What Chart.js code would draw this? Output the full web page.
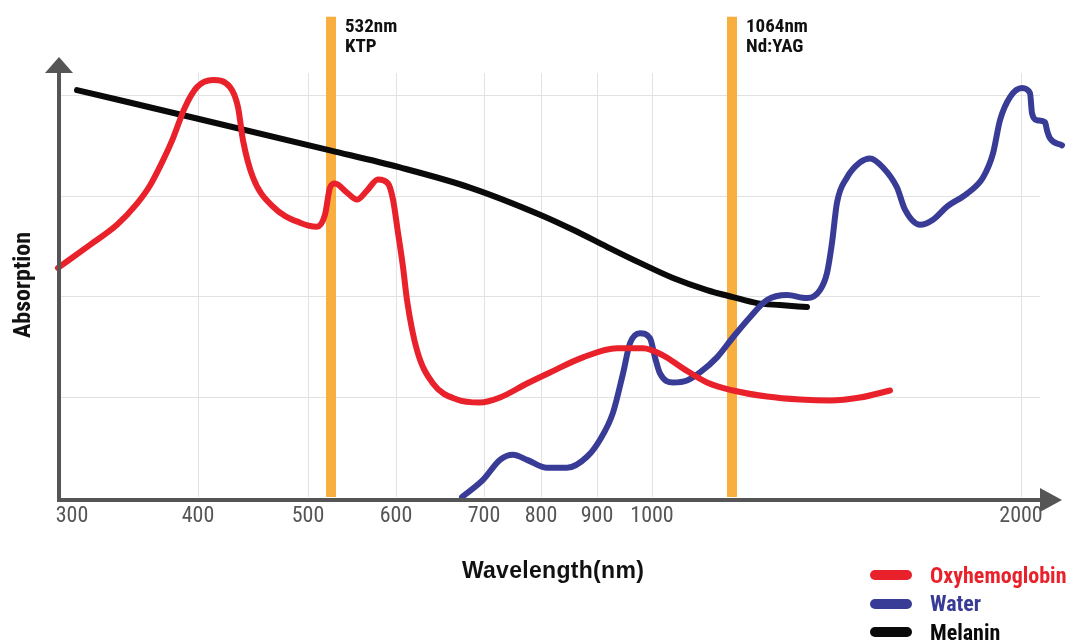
<!DOCTYPE html>
<html lang="en">
<head>
    <meta charset="UTF-8">
    <title>Absorption spectra</title>
    <script src="https://cdn.jsdelivr.net/npm/chart.js"></script>
    <style>
        body {
            margin: 0;
            background: #fff;
            font-family: 'Liberation Sans Narrow', 'Roboto Condensed', Roboto, Arial, sans-serif;
        }
        .wrap { position: relative; width: 1072px; height: 640px; }
        #yTitle {
            position: absolute; left: 22px; top: 285px;
            transform: translate(-50%, -50%) rotate(-90deg);
            font-weight: bold; font-size: 24px; color: #111; white-space: nowrap;
        }
        #xTitle {
            position: absolute; left: 553px; top: 570px;
            transform: translate(-50%, -50%);
            font-family: 'Liberation Sans', Arial, sans-serif;
            font-weight: bold; font-size: 23px; letter-spacing: 0.3px; color: #111; white-space: nowrap;
        }
        #legend { position: absolute; left: 870px; top: 561px; }
        .item { display: flex; align-items: center; height: 28.5px; }
        .swatch { width: 42px; height: 10px; border-radius: 5px; margin-right: 18px; }
        .label { font-weight: bold; font-size: 22px; }
    </style>
</head>
<body>
    <div class="wrap">
        <canvas id="chart" width="1072" height="640"></canvas>
        <div id="yTitle">Absorption</div>
        <div id="xTitle">Wavelength(nm)</div>
        <div id="legend"></div>
    </div>

    <script>
        // the wavelength axis of this figure is schematic (not to scale),
        // so x values are positions along the axis (0 = y axis) and ticks carry the nm labels
        const tickPositions = [1.4, 14.0, 25.0, 33.8, 42.6, 48.3, 53.9, 59.4, 96.3];
        const tickLabels = ['300', '400', '500', '600', '700', '800', '900', '1000', '2000'];
        const gridLevels = [1, 2, 3, 4];
        const gridEnd = 98.2;

        const laserPositions = [27.3, 67.4];
        const laserLabels = [['532nm', 'KTP'], ['1064nm', 'Nd:YAG']];
        const laserTop = 4.78;

        const seriesNames = ['Oxyhemoglobin', 'Water', 'Melanin'];
        const seriesColors = ['#e8212b', '#383c96', '#0a0a0a'];

        // [axis position, absorption]
        const oxyhemoglobin = [
            [0.0, 2.28], [3.2, 2.51], [5.9, 2.71], [7.9, 2.92], [9.2, 3.10], [10.5, 3.35],
            [11.5, 3.57], [12.7, 3.88], [13.9, 4.08], [15.5, 4.15], [17.2, 4.08], [18.0, 3.88],
            [18.5, 3.55], [19.5, 3.18], [21.5, 2.89], [24.2, 2.73], [25.9, 2.69], [26.7, 2.81],
            [27.2, 3.08], [27.7, 3.12], [28.9, 3.03], [29.9, 2.96], [30.9, 3.05], [32.0, 3.16],
            [33.0, 3.12], [33.5, 2.96], [34.0, 2.63], [34.5, 2.29], [34.9, 1.96], [35.9, 1.46],
            [37.5, 1.13], [39.9, 0.97], [42.2, 0.94], [44.2, 0.99], [46.9, 1.13], [49.2, 1.24],
            [52.5, 1.39], [55.9, 1.48], [58.5, 1.48], [60.5, 1.41], [62.5, 1.28], [64.9, 1.14],
            [67.5, 1.06], [70.9, 1.00], [74.2, 0.97], [77.2, 0.96], [80.2, 0.99], [83.2, 1.06]
        ];
        const water = [
            [40.4, 0.0], [42.5, 0.17], [44.2, 0.37], [45.5, 0.42], [46.9, 0.37], [48.9, 0.29],
            [50.9, 0.29], [52.9, 0.40], [54.2, 0.57], [55.5, 0.84], [56.5, 1.23], [57.2, 1.53],
            [58.2, 1.63], [59.2, 1.58], [59.7, 1.39], [60.2, 1.23], [61.5, 1.14], [62.9, 1.16],
            [64.2, 1.24], [65.9, 1.39], [67.5, 1.59], [69.2, 1.79], [70.9, 1.96], [72.9, 2.01],
            [74.9, 1.98], [76.2, 2.06], [76.9, 2.23], [77.4, 2.53], [77.9, 2.93], [78.9, 3.18],
            [80.2, 3.33], [81.2, 3.37], [82.5, 3.28], [83.9, 3.08], [84.7, 2.86], [86.2, 2.71],
            [87.5, 2.76], [88.9, 2.89], [90.9, 3.02], [92.5, 3.18], [93.5, 3.42], [94.2, 3.75],
            [95.2, 3.98], [96.4, 4.07], [97.2, 4.02], [97.4, 3.82], [97.9, 3.75], [98.7, 3.73],
            [98.9, 3.65], [99.2, 3.57], [100.4, 3.50]
        ];
        const melanin = [
            [1.9, 4.05], [14.2, 3.76], [27.2, 3.45], [34.2, 3.28], [41.2, 3.08], [48.2, 2.81],
            [51.5, 2.66], [54.9, 2.49], [58.2, 2.33], [61.5, 2.18], [64.9, 2.06], [67.5, 1.99],
            [69.9, 1.93], [72.2, 1.91], [74.9, 1.89]
        ];

        const FONT = "'Liberation Sans Narrow', 'Roboto Condensed', Roboto, Arial, sans-serif";

        const decor = {
            id: 'decor',
            beforeDatasetsDraw(chart) {
                const { ctx, scales: { x, y } } = chart;
                ctx.save();
                // horizontal grid
                ctx.strokeStyle = '#e2e2e2';
                ctx.lineWidth = 1;
                gridLevels.forEach(v => {
                    const py = Math.round(y.getPixelForValue(v)) + 0.5;
                    ctx.beginPath();
                    ctx.moveTo(x.getPixelForValue(0), py);
                    ctx.lineTo(x.getPixelForValue(gridEnd), py);
                    ctx.stroke();
                });
                // laser wavelengths
                const top = y.getPixelForValue(laserTop);
                const bottom = y.getPixelForValue(0);
                laserPositions.forEach((p, i) => {
                    const px = x.getPixelForValue(p);
                    ctx.fillStyle = '#f9af3f';
                    ctx.fillRect(px - 5, top, 10, bottom - top);
                    ctx.fillStyle = '#111';
                    ctx.font = 'bold 19px ' + FONT;
                    ctx.textAlign = 'left';
                    ctx.textBaseline = 'middle';
                    laserLabels[i].forEach((t, j) => ctx.fillText(t, px + 14, top + 11 + j * 19.5));
                });
                ctx.restore();
            },
            afterDatasetsDraw(chart) {
                const { ctx, scales: { x, y } } = chart;
                const x0 = x.getPixelForValue(0) + 1;
                const y0 = y.getPixelForValue(0) + 3;
                const top = chart.chartArea.top;
                const end = x.getPixelForValue(gridEnd);
                ctx.save();
                ctx.strokeStyle = '#555';
                ctx.fillStyle = '#555';
                ctx.lineWidth = 4;
                ctx.beginPath();
                ctx.moveTo(x0, y0 + 2);
                ctx.lineTo(x0, top);
                ctx.moveTo(x0 - 2, y0);
                ctx.lineTo(end, y0);
                ctx.stroke();
                // arrow heads
                ctx.beginPath();
                ctx.moveTo(x0 - 14, top);
                ctx.lineTo(x0, top - 16);
                ctx.lineTo(x0 + 14, top);
                ctx.closePath();
                ctx.fill();
                ctx.beginPath();
                ctx.moveTo(end, y0 - 12);
                ctx.lineTo(end + 22, y0);
                ctx.lineTo(end, y0 + 12);
                ctx.closePath();
                ctx.fill();
                ctx.restore();
            }
        };

        const toPoints = arr => arr.map(([x, y]) => ({ x, y }));
        const seriesData = [oxyhemoglobin, water, melanin];

        const chart = new Chart(document.getElementById('chart'), {
            type: 'line',
            data: {
                datasets: seriesData.map((d, i) => ({
                    label: seriesNames[i],
                    data: toPoints(d),
                    borderColor: seriesColors[i],
                    borderWidth: 6,
                    pointRadius: 0,
                    cubicInterpolationMode: 'monotone',
                    borderCapStyle: 'round',
                    borderJoinStyle: 'round',
                    clip: false
                }))
            },
            options: {
                responsive: false,
                animation: false,
                devicePixelRatio: 1,
                layout: { padding: { left: 58, right: 8, top: 73, bottom: 103 } },
                plugins: { legend: { display: false }, tooltip: { enabled: false } },
                scales: {
                    x: {
                        type: 'linear',
                        min: 0,
                        max: 100.6,
                        afterBuildTicks: s => { s.ticks = tickPositions.map(v => ({ value: v })); },
                        afterFit: s => { s.height = 40; },
                        ticks: {
                            autoSkip: false,
                            maxRotation: 0,
                            padding: 6,
                            color: '#555',
                            font: { family: FONT, size: 22 },
                            callback: (v, i) => tickLabels[i]
                        },
                        grid: {
                            color: c => c.index === 0 ? 'rgba(0,0,0,0)' : '#e2e2e2',
                            drawTicks: false
                        },
                        border: { display: false }
                    },
                    y: {
                        type: 'linear',
                        min: 0,
                        max: 4.22,
                        afterFit: s => { s.width = 0; },
                        ticks: { display: false },
                        grid: { display: false },
                        border: { display: false }
                    }
                }
            },
            plugins: [decor]
        });

        // legend built from the datasets
        const legend = document.getElementById('legend');
        chart.data.datasets.forEach(ds => {
            legend.innerHTML += `<div class="item">
                <div class="swatch" style="background:${ds.borderColor}"></div>
                <span class="label" style="color:${ds.borderColor}">${ds.label}</span>
            </div>`;
        });
    </script>
</body>
</html>
